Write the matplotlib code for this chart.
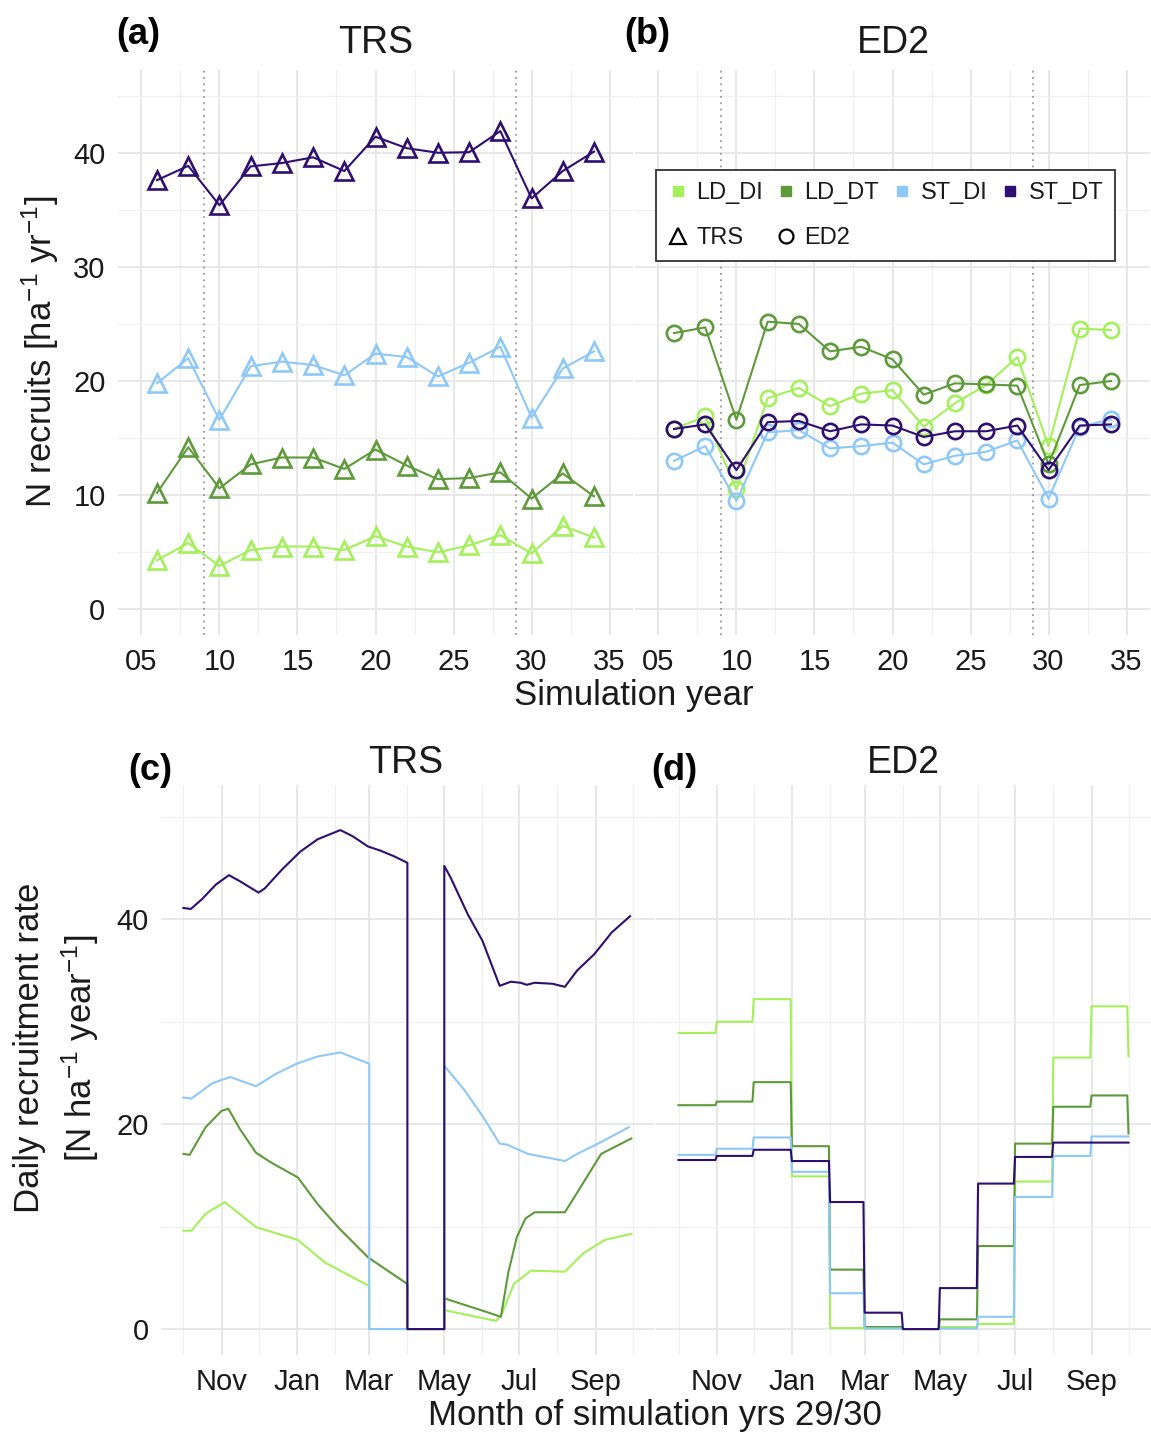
import numpy as np
import pandas as pd
import matplotlib
matplotlib.use("Agg")
import matplotlib.pyplot as plt
import matplotlib.dates as mdates
from matplotlib.lines import Line2D
from matplotlib.ticker import MultipleLocator, FuncFormatter, FixedLocator

plt.rcParams['font.family'] = ['Liberation Sans', 'DejaVu Sans']
plt.rcParams['mathtext.fontset'] = 'custom'
plt.rcParams['mathtext.rm'] = 'Liberation Sans'
plt.rcParams['mathtext.it'] = 'Liberation Sans:italic'
plt.rcParams['mathtext.bf'] = 'Liberation Sans:bold'
plt.rcParams['mathtext.default'] = 'regular'

# ---------------- data ----------------
groups = ['LD_DI', 'LD_DT', 'ST_DI', 'ST_DT']
colors = ['#A3F05A', '#5E9A3A', '#8EC8F8', '#2E0E70']

years = [6, 8, 10, 12, 14, 16, 18, 20, 22, 24, 26, 28, 30, 32, 34]
dry_years = [9, 29]

trs_LD_DI = [4.3, 5.8, 3.8, 5.2, 5.5, 5.5, 5.2, 6.4, 5.5, 5.0, 5.6, 6.5, 4.9, 7.3, 6.3]
trs_LD_DT = [10.2, 14.2, 10.6, 12.7, 13.3, 13.3, 12.3, 14.0, 12.6, 11.4, 11.5, 12.0, 9.7, 11.9, 9.9]
trs_ST_DI = [19.8, 22.0, 16.6, 21.3, 21.7, 21.4, 20.5, 22.4, 22.1, 20.4, 21.6, 23.0, 16.8, 21.1, 22.6]
trs_ST_DT = [37.6, 38.85, 35.4, 38.8, 39.1, 39.6, 38.4, 41.4, 40.4, 40.0, 40.05, 41.9, 36.0, 38.4, 40.1]

ed2_LD_DI = [15.8, 16.9, 10.5, 18.5, 19.4, 17.8, 18.9, 19.2, 16.0, 18.05, 19.65, 22.1, 14.3, 24.6, 24.45]
ed2_LD_DT = [24.2, 24.7, 16.6, 25.2, 25.0, 22.6, 23.0, 21.9, 18.8, 19.8, 19.7, 19.6, 12.7, 19.65, 20.0]
ed2_ST_DI = [13.0, 14.3, 9.5, 15.5, 15.7, 14.1, 14.3, 14.6, 12.7, 13.45, 13.8, 14.8, 9.7, 16.0, 16.65]
ed2_ST_DT = [15.8, 16.2, 12.2, 16.4, 16.5, 15.6, 16.2, 16.1, 15.1, 15.6, 15.6, 16.1, 12.2, 16.1, 16.2]

# TRS daily recruitment (day offset from 1 Oct of year 29, value)
trs_day_LD_DI = [0, 6.5, 18, 33.5, 59, 93, 115, 132, 151, 151, 212, 212, 254, 258.5, 268.5, 282.5, 310, 325, 342.5, 364]
trs_val_LD_DI = [9.6, 9.6, 11.25, 12.4, 9.95, 8.7, 6.5, 5.4, 4.2, 0, 0, 1.85, 0.8, 1.4, 4.4, 5.7, 5.6, 7.4, 8.7, 9.3]
trs_day_LD_DT = [0, 5, 18, 31, 36.5, 46, 59, 72, 93, 109, 126, 150, 166, 182, 182, 212, 212, 243, 258, 264, 271, 278, 285.5, 310, 322.5, 339.5, 364]
trs_val_LD_DT = [17.1, 17.0, 19.7, 21.3, 21.5, 19.5, 17.2, 16.2, 14.8, 12.2, 9.9, 7.0, 5.7, 4.4, 0, 0, 3.0, 1.8, 1.2, 5.5, 9.0, 10.8, 11.4, 11.4, 13.8, 17.1, 18.6]
trs_day_ST_DI = [0, 6.5, 23.5, 38, 59, 75, 92, 109, 127.5, 151, 151, 212, 212, 228.5, 243, 257, 263, 280, 310, 320, 337, 362]
trs_val_ST_DI = [22.6, 22.5, 24.0, 24.6, 23.7, 24.9, 25.9, 26.6, 27.0, 25.9, 0, 0, 25.7, 23.3, 20.8, 18.1, 18.0, 17.1, 16.4, 17.1, 18.1, 19.7]
trs_day_ST_DT = [0, 6, 15, 26.5, 37, 46, 61, 66, 80.5, 95, 109, 127.5, 137.5, 150, 160, 172, 182, 182, 212, 212,
                 217, 231, 243, 257, 266, 274, 279, 285.5, 300, 310, 320, 334, 348, 363]
trs_val_ST_DT = [41.1, 41.0, 41.95, 43.4, 44.3, 43.7, 42.6, 43.0, 44.9, 46.6, 47.8, 48.7, 48.1, 47.1, 46.7, 46.1, 45.5, 0, 0, 45.2,
                 44.1, 40.5, 37.9, 33.5, 33.9, 33.8, 33.6, 33.8, 33.7, 33.4, 35.0, 36.6, 38.7, 40.3]

# ED2 monthly recruitment (Oct ... Sep) and value on 1 Oct of year 30
ed2_m_LD_DI = [28.9, 30.0, 32.2, 14.9, 0.1, 0.05, 0.0, 0.2, 0.5, 14.4, 26.5, 31.5]
ed2_m_LD_DT = [21.85, 22.2, 24.1, 17.85, 5.8, 0.2, 0.0, 0.95, 8.1, 18.1, 21.7, 22.8]
ed2_m_ST_DI = [17.0, 17.6, 18.7, 15.35, 3.5, 0.07, 0.0, 0.05, 1.2, 12.9, 16.9, 18.8]
ed2_m_ST_DT = [16.5, 16.9, 17.5, 16.4, 12.4, 1.6, 0.0, 4.0, 14.2, 16.8, 18.2, 18.2]
ed2_next_oct = [26.6, 19.1, 18.8, 18.2]

month_tick_labels = ['Nov', 'Jan', 'Mar', 'May', 'Jul', 'Sep']

# ---------------- figure ----------------
W, H = 1151, 1434
fig = plt.figure(figsize=(W / 100, H / 100), dpi=100)


def rect(x0, x1, yt, yb):
    return [x0 / W, 1 - yb / H, (x1 - x0) / W, (yb - yt) / H]


def ftext(x, y, s, **kw):
    fig.text(x / W, 1 - y / H, s, **kw)


TXT = '#1a1a1a'
GRID_MAJ = '#E6E6E6'
GRID_MIN = '#F0F0F0'


def style(ax):
    for sp in ax.spines.values():
        sp.set_visible(False)
    ax.tick_params(which='both', length=0, labelsize=21, labelcolor=TXT, pad=9)
    ax.grid(True, which='major', color=GRID_MAJ, lw=1.3)
    ax.grid(True, which='minor', color=GRID_MIN, lw=0.9)
    ax.set_axisbelow(True)


ax_a = fig.add_axes(rect(118, 633, 70, 635))
ax_b = fig.add_axes(rect(635, 1150, 70, 635))

trs_top = [trs_LD_DI, trs_LD_DT, trs_ST_DI, trs_ST_DT]
ed2_top = [ed2_LD_DI, ed2_LD_DT, ed2_ST_DI, ed2_ST_DT]

for ax, series, mk, ms in [(ax_a, trs_top, '^', 13), (ax_b, ed2_top, 'o', 11)]:
    style(ax)
    for vals, c in zip(series, colors):
        ax.plot(years, vals, color=c, lw=1.5, marker=mk, ms=ms, mfc='none', mec=c, mew=1.9, zorder=3)
    for dy in dry_years:
        ax.axvline(dy, color='#9a9a9a', ls=(0, (1, 2.5)), lw=1.3, zorder=2)
    ax.set_xlim(3.5, 36.5)
    ax.set_ylim(-2.25, 47.25)
    ax.xaxis.set_major_locator(MultipleLocator(5))
    ax.xaxis.set_minor_locator(FixedLocator(np.arange(7.5, 36, 5)))
    ax.xaxis.set_major_formatter(FuncFormatter(lambda v, _: f"{int(round(v)):02d}"))
    ax.yaxis.set_major_locator(MultipleLocator(10))
    ax.yaxis.set_minor_locator(FixedLocator(np.arange(5, 47, 10)))

ax_b.tick_params(axis='y', labelleft=False)

# legend
handles = [
    Line2D([], [], ls='none', marker='s', ms=7.5, color=colors[0]),
    Line2D([], [], ls='none', marker='^', ms=12, mfc='none', mec='black', mew=1.6),
    Line2D([], [], ls='none', marker='s', ms=7.5, color=colors[1]),
    Line2D([], [], ls='none', marker='o', ms=10, mfc='none', mec='black', mew=1.6),
    Line2D([], [], ls='none', marker='s', ms=7.5, color=colors[2]),
    Line2D([], [], ls='none', marker='s', ms=7.5, color=colors[3]),
]
labels = ['LD_DI', 'TRS', 'LD_DT', 'ED2', 'ST_DI', 'ST_DT']
leg = ax_b.legend(handles, labels, ncol=4, loc='upper right', bbox_to_anchor=(0.932, 0.823),
                  borderaxespad=0, fontsize=17, frameon=True, fancybox=False, framealpha=1,
                  edgecolor='#333333', handletextpad=0.4, columnspacing=0.55, labelspacing=1.0,
                  handlelength=0.8, borderpad=0.5)
leg.get_frame().set_linewidth(1.3)
for t in leg.get_texts():
    t.set_color(TXT)

# bottom panels
ax_c = fig.add_axes(rect(161, 655, 785, 1355))
ax_d = fig.add_axes(rect(656, 1151, 785, 1355))

start = np.datetime64('2029-10-01')


def to_dates(days):
    return start + (np.array(days) * 24 * 3600).astype('timedelta64[s]')


trs_days = [trs_day_LD_DI, trs_day_LD_DT, trs_day_ST_DI, trs_day_ST_DT]
trs_vals = [trs_val_LD_DI, trs_val_LD_DT, trs_val_ST_DI, trs_val_ST_DT]
for d, v, c in zip(trs_days, trs_vals, colors):
    ax_c.plot(to_dates(d), v, color=c, lw=1.5, zorder=3)

daily = pd.date_range('2029-10-01', '2030-09-30', freq='D')
midx = (daily.month.values - 10) % 12
dates_d = np.append(daily.values, np.datetime64('2030-10-01'))
for m_vals, nxt, c in zip([ed2_m_LD_DI, ed2_m_LD_DT, ed2_m_ST_DI, ed2_m_ST_DT], ed2_next_oct, colors):
    vals = np.append(np.array(m_vals)[midx], nxt)
    ax_d.plot(dates_d, vals, color=c, lw=1.5, zorder=3)

xmin = np.datetime64('2029-10-01') - np.timedelta64(18, 'D') - np.timedelta64(6, 'h')
xmax = np.datetime64('2030-10-01') + np.timedelta64(18, 'D') + np.timedelta64(6, 'h')
for ax in (ax_c, ax_d):
    style(ax)
    ax.set_xlim(xmin, xmax)
    ax.set_ylim(-2.53, 53.1)
    ax.xaxis.set_major_locator(mdates.MonthLocator(bymonth=[11, 1, 3, 5, 7, 9]))
    ax.xaxis.set_minor_locator(mdates.MonthLocator(bymonth=[10, 12, 2, 4, 6, 8]))
    ax.xaxis.set_major_formatter(mdates.DateFormatter('%b'))
    ax.yaxis.set_major_locator(MultipleLocator(20))
    ax.yaxis.set_minor_locator(FixedLocator([10, 30, 50]))
ax_d.tick_params(axis='y', labelleft=False)

# ---------------- text ----------------
ftext(116, 35, '(a)', fontsize=26, fontweight='bold', ha='left', va='center', color='black')
ftext(376, 43, 'TRS', fontsize=27, ha='center', va='center', color=TXT)
ftext(624, 35, '(b)', fontsize=26, fontweight='bold', ha='left', va='center', color='black')
ftext(893, 43, 'ED2', fontsize=27, ha='center', va='center', color=TXT)
ftext(128, 770, '(c)', fontsize=26, fontweight='bold', ha='left', va='center', color='black')
ftext(406, 763, 'TRS', fontsize=27, ha='center', va='center', color=TXT)
ftext(651, 770, '(d)', fontsize=26, fontweight='bold', ha='left', va='center', color='black')
ftext(903, 763, 'ED2', fontsize=27, ha='center', va='center', color=TXT)

ftext(634, 695, 'Simulation year', fontsize=25, ha='center', va='center', color=TXT)
ftext(655, 1415, 'Month of simulation yrs 29/30', fontsize=25, ha='center', va='center', color=TXT)
ftext(40, 352, 'N recruits [ha$^{-1}$ yr$^{-1}$]', fontsize=25, ha='center', va='center',
      rotation=90, color=TXT)
ftext(30, 1048, 'Daily recruitment rate', fontsize=25, ha='center', va='center', rotation=90, color=TXT)
ftext(80, 1048, '[N ha$^{-1}$ year$^{-1}$]', fontsize=25, ha='center', va='center', rotation=90, color=TXT)

fig.savefig('out.png', dpi=100, facecolor='white')
